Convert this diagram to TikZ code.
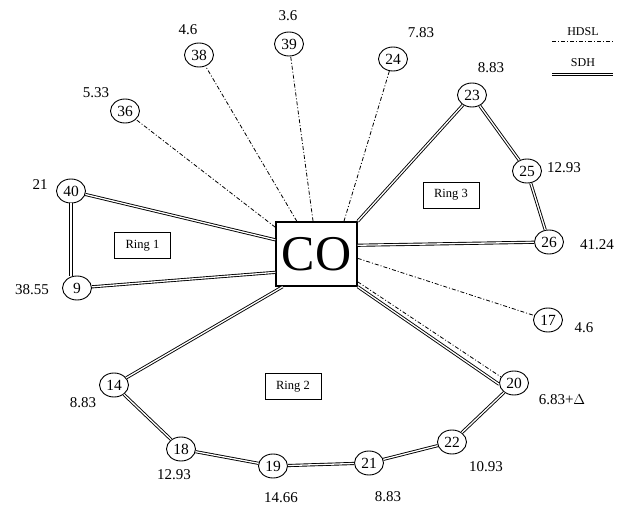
\documentclass[tikz,border=0pt]{standalone}
\usepackage{fontspec}
\setmainfont{Liberation Serif}
\usetikzlibrary{shapes.geometric,calc}
\tikzset{
  site/.style={ellipse,draw,line width=0.9pt,minimum width=29pt,minimum height=24pt,inner sep=0pt,font=\fontsize{15.5}{15.5}\selectfont},
  val/.style={inner sep=0pt,font=\fontsize{15}{15}\selectfont},
  ringbox/.style={draw,line width=0.7pt,minimum width=56pt,minimum height=26pt,inner sep=0pt,font=\fontsize{12.5}{12.5}\selectfont},
  sdh/.style={draw,line width=0.9pt,double,double distance=1.3pt},
  hdsl/.style={draw,line width=0.8pt,dash pattern=on 4pt off 2pt on 1pt off 2pt},
}
\begin{document}
\begin{tikzpicture}[x=1pt,y=-1pt]
\useasboundingbox (0,0) rectangle (625,509);
% central office
\node[draw,line width=1.4pt,minimum width=81pt,minimum height=64pt,inner sep=0pt,font=\fontsize{50}{50}\selectfont] (CO) at (316.5,254) {CO};
% sites
\node[site] (n36) at (125,111) {36};
\node[site] (n38) at (199,55) {38};
\node[site] (n39) at (289,44) {39};
\node[site] (n24) at (393,59) {24};
\node[site] (n23) at (472,95) {23};
\node[site] (n25) at (527,171) {25};
\node[site] (n26) at (549,242) {26};
\node[site] (n40) at (71,191) {40};
\node[site] (n9) at (77,288) {9};
\node[site] (n17) at (548,320) {17};
\node[site] (n20) at (514,383) {20};
\node[site] (n22) at (452,442) {22};
\node[site] (n21) at (369,463) {21};
\node[site] (n19) at (273,466) {19};
\node[site] (n18) at (181,449) {18};
\node[site] (n14) at (114,385) {14};
% values
\node[val] (l36) at (96,93) {5.33};
\node[val] (l38) at (188,30) {4.6};
\node[val] (l39) at (288,16) {3.6};
\node[val] (l24) at (421,33) {7.83};
\node[val] (l23) at (491,68) {8.83};
\node[val] (l25) at (564,168) {12.93};
\node[val] (l26) at (597,245) {41.24};
\node[val] (l40) at (40,185) {21};
\node[val] (l9) at (32,290) {38.55};
\node[val] (l17) at (584,328) {4.6};
\node[val] (l20) at (562,400) {6.83+$\Delta$};
\node[val] (l22) at (486,467) {10.93};
\node[val] (l21) at (388,497) {8.83};
\node[val] (l19) at (281,498) {14.66};
\node[val] (l18) at (174,475) {12.93};
\node[val] (l14) at (83,403) {8.83};
% ring labels
\node[ringbox] (r1) at (142.5,245.5) {Ring 1};
\node[ringbox] (r3) at (451,195) {Ring 3};
\node[ringbox] (r2) at (293,386.5) {Ring 2};
% HDSL links
\draw[hdsl] (CO.147) -- (n36);
\draw[hdsl] (CO.121) -- (n38);
\draw[hdsl] (CO.96) -- (n39);
\draw[hdsl] (CO.50) -- (n24);
\draw[hdsl] (CO.354) -- (n17);
\draw[hdsl] (CO.326) -- (n20.155);
% SDH rings
\draw[sdh] (CO.161) -- (n40);
\draw[sdh] (n40) -- (n40 |- n9.north);
\draw[sdh] (n9) -- (CO.204);
\draw[sdh] (CO.north east) -- (n23);
\draw[sdh] (n23) -- (n25);
\draw[sdh] (n25) -- (n26);
\draw[sdh] (n26) -- (CO.12.5);
\draw[sdh] (CO.224) -- (n14);
\draw[sdh] (n14) -- (n18);
\draw[sdh] (n18) -- (n19);
\draw[sdh] (n19) -- (n21);
\draw[sdh] (n21) -- (n22);
\draw[sdh] (n22) -- (n20);
\draw[sdh] (n20.185) -- (CO.south east);
% legend
\node[inner sep=0pt,font=\fontsize{12}{12}\selectfont] (lgH) at (583,32) {HDSL};
\node[inner sep=0pt,font=\fontsize{12}{12}\selectfont] (lgS) at (583,63) {SDH};
\coordinate (h1) at (552,41.5);
\coordinate (h2) at (613,41.5);
\coordinate (s1) at (552,74.5);
\coordinate (s2) at (613,74.5);
\draw[hdsl] (h1) -- (h2);
\draw[sdh] (s1) -- (s2);
\end{tikzpicture}
\end{document}
